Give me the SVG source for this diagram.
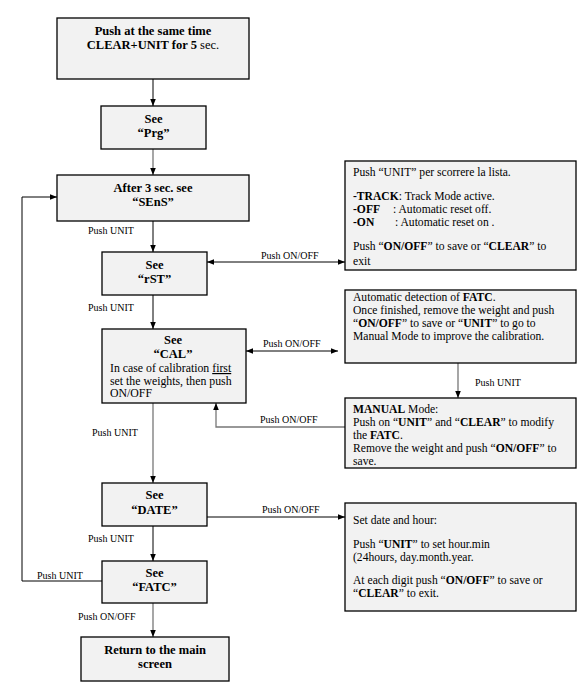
<svg xmlns="http://www.w3.org/2000/svg" width="584" height="690" viewBox="0 0 584 690">
<defs>
<marker id="ah" viewBox="0 0 10 10" refX="10" refY="5" markerWidth="7" markerHeight="7" orient="auto-start-reverse" markerUnits="userSpaceOnUse">
<path d="M0,1 L10,5 L0,9 z" fill="#000"/>
</marker>
</defs>
<style>
.box{fill:#f2f2f2;stroke:#000;stroke-width:1.3}
.t{font-family:"Liberation Serif","Times New Roman",serif;font-size:12.5px;font-weight:bold;fill:#000;text-anchor:middle}
.s{font-family:"Liberation Serif","Times New Roman",serif;font-size:11.6px;fill:#000}
.c{font-family:"Liberation Serif","Times New Roman",serif;font-size:11.8px;fill:#000}
.l{font-family:"Liberation Serif","Times New Roman",serif;font-size:10px;fill:#000}
.b{font-weight:bold}
.ln{fill:none;stroke:#000;stroke-width:1}
.lg{fill:none;stroke:#777;stroke-width:1.3}
</style>
<rect width="584" height="690" fill="#fff"/>
<g id="connectors">
<line class="ln" x1="153" y1="79" x2="153" y2="106" marker-end="url(#ah)"/>
<line class="lg" x1="153" y1="149" x2="153" y2="175" marker-end="url(#ah)"/>
<line class="ln" x1="153" y1="221" x2="153" y2="252" marker-end="url(#ah)"/>
<line class="ln" x1="153" y1="295" x2="153" y2="329" marker-end="url(#ah)"/>
<line class="lg" x1="153" y1="403" x2="153" y2="483" marker-end="url(#ah)"/>
<line class="ln" x1="153" y1="526" x2="153" y2="561" marker-end="url(#ah)"/>
<line class="lg" x1="153" y1="603" x2="153" y2="637" marker-end="url(#ah)"/>
<line class="ln" x1="207" y1="262" x2="345" y2="262" marker-start="url(#ah)" marker-end="url(#ah)"/>
<line class="ln" x1="246" y1="351" x2="338" y2="351" marker-start="url(#ah)" marker-end="url(#ah)"/>
<line class="lg" x1="458" y1="363" x2="458" y2="398" marker-end="url(#ah)"/>
<polyline class="lg" points="345,427 216,427 216,403" marker-end="url(#ah)"/>
<line class="ln" x1="207" y1="517" x2="345" y2="517" marker-end="url(#ah)"/>
<polyline class="ln" points="102,581 22,581 22,197 57,197" marker-end="url(#ah)"/>
<text class="l" x="88" y="234">Push UNIT</text>
<text class="l" x="88" y="311">Push UNIT</text>
<text class="l" x="92" y="436">Push UNIT</text>
<text class="l" x="88" y="542">Push UNIT</text>
<text class="l" x="37" y="579">Push UNIT</text>
<text class="l" x="78" y="620">Push ON/OFF</text>
<text class="l" x="261" y="259">Push ON/OFF</text>
<text class="l" x="263" y="347">Push ON/OFF</text>
<text class="l" x="260" y="423">Push ON/OFF</text>
<text class="l" x="262" y="513">Push ON/OFF</text>
<text class="l" x="475" y="386">Push UNIT</text>
</g>
<g id="n1">
<rect class="box" x="57" y="18" width="192" height="61"/>
<text class="t" x="153" y="35">Push at the same time</text>
<text class="t" x="153" y="49">CLEAR+UNIT for 5 <tspan font-weight="normal">sec.</tspan></text>
</g>
<g id="n2">
<rect class="box" x="101" y="106" width="105" height="43"/>
<text class="t" x="153.5" y="123">See</text>
<text class="t" x="153.5" y="137">“Prg”</text>
</g>
<g id="n3">
<rect class="box" x="57" y="175" width="192" height="46"/>
<text class="t" x="153" y="192">After 3 sec. see</text>
<text class="t" x="153" y="206">“SEnS”</text>
</g>
<g id="n4">
<rect class="box" x="102" y="252" width="105" height="43"/>
<text class="t" x="154.5" y="269">See</text>
<text class="t" x="154.5" y="283">“rST”</text>
</g>
<g id="n5">
<rect class="box" x="102" y="329" width="144" height="74"/>
<text class="t" x="173" y="344">See</text>
<text class="t" x="173" y="358">“CAL”</text>
<text class="c" x="110" y="372">In case of calibration <tspan text-decoration="underline">first</tspan></text>
<text class="c" x="110" y="384.5">set the weights, then push</text>
<text class="c" x="110" y="397">ON/OFF</text>
</g>
<g id="n6">
<rect class="box" x="102" y="483" width="105" height="43"/>
<text class="t" x="154.5" y="499">See</text>
<text class="t" x="154.5" y="514">“DATE”</text>
</g>
<g id="n7">
<rect class="box" x="102" y="561" width="105" height="42"/>
<text class="t" x="154.5" y="577">See</text>
<text class="t" x="154.5" y="591">“FATC”</text>
</g>
<g id="n8">
<rect class="box" x="81" y="637" width="148" height="44"/>
<text class="t" x="155" y="654">Return to the main</text>
<text class="t" x="155" y="668">screen</text>
</g>
<g id="r1">
<rect class="box" x="345" y="161" width="231" height="109"/>
<text class="s" x="353" y="176">Push “UNIT” per scorrere la lista.</text>
<text class="s" x="353" y="200"><tspan class="b">-TRACK</tspan>: Track Mode active.</text>
<text class="s" x="353" y="213"><tspan class="b">-OFF</tspan></text>
<text class="s" x="393" y="213">: Automatic reset off.</text>
<text class="s" x="353" y="226"><tspan class="b">-ON</tspan></text>
<text class="s" x="395" y="226">: Automatic reset on .</text>
<text class="s" x="353" y="250">Push “<tspan class="b">ON/OFF</tspan>” to save or “<tspan class="b">CLEAR</tspan>” to</text>
<text class="s" x="353" y="265">exit</text>
</g>
<g id="r2">
<rect class="box" x="345" y="290" width="231" height="73"/>
<text class="s" x="353" y="301">Automatic detection of <tspan class="b">FATC</tspan>.</text>
<text class="s" x="353" y="314">Once finished, remove the weight and push</text>
<text class="s" x="353" y="327">“<tspan class="b">ON/OFF</tspan>” to save or “<tspan class="b">UNIT</tspan>” to go to</text>
<text class="s" x="353" y="340">Manual Mode to improve the calibration.</text>
</g>
<g id="r3">
<rect class="box" x="345" y="398" width="231" height="70"/>
<text class="s" x="353" y="413"><tspan class="b">MANUAL</tspan> Mode:</text>
<text class="s" x="353" y="426">Push on “<tspan class="b">UNIT</tspan>” and “<tspan class="b">CLEAR</tspan>” to modify</text>
<text class="s" x="353" y="439">the <tspan class="b">FATC</tspan>.</text>
<text class="s" x="353" y="452">Remove the weight and push “<tspan class="b">ON/OFF</tspan>” to</text>
<text class="s" x="353" y="465">save.</text>
</g>
<g id="r4">
<rect class="box" x="345" y="503" width="231" height="108"/>
<text class="s" x="353" y="524">Set date and hour:</text>
<text class="s" x="353" y="548">Push “<tspan class="b">UNIT</tspan>” to set hour.min</text>
<text class="s" x="353" y="561">(24hours, day.month.year.</text>
<text class="s" x="353" y="584">At each digit push “<tspan class="b">ON/OFF</tspan>” to save or</text>
<text class="s" x="353" y="597">“<tspan class="b">CLEAR</tspan>” to exit.</text>
</g>
</svg>
